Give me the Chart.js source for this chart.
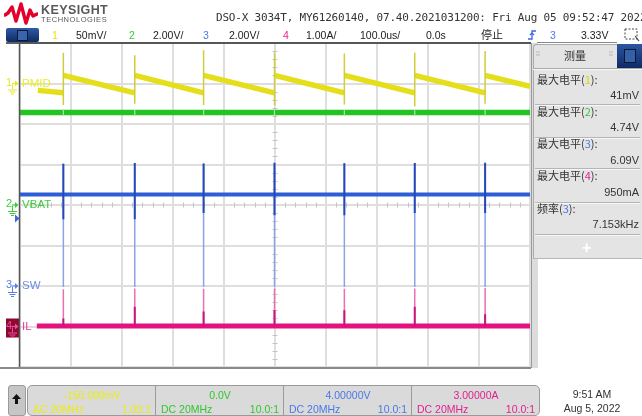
<!DOCTYPE html>
<html>
<head>
<meta charset="utf-8">
<script src="https://cdn.jsdelivr.net/npm/chart.js@4.4.1/dist/chart.umd.min.js"></script>
<style>
html,body{margin:0;padding:0;background:#fff;}
#wrap{position:relative;width:642px;height:416px;overflow:hidden;font-family:"Liberation Sans",Arial,sans-serif;font-size:10.5px;color:#222;}
#c{position:absolute;left:0;top:0;}
.a{position:absolute;white-space:nowrap;line-height:12px;}
.cjk{font-family:"Noto Sans CJK SC","Liberation Sans",sans-serif;}
.sep{position:absolute;left:535px;width:105px;height:1px;background:#b5b5b5;border-bottom:1px solid #f6f6f6;}
.lbl{position:absolute;left:537px;font-size:11px;line-height:13px;color:#333;font-family:"Noto Sans CJK SC","Liberation Sans",sans-serif;white-space:nowrap;}
.val{position:absolute;right:3px;font-size:11px;line-height:13px;color:#333;white-space:nowrap;}
.sec{position:absolute;top:0;height:30px;width:128px;}
.sec .t{position:absolute;top:3px;left:0;width:100%;text-align:center;line-height:12px;}
.sec .l{position:absolute;top:17px;left:5px;line-height:12px;}
.sec .r{position:absolute;top:17px;right:5px;line-height:12px;}
</style>
</head>
<body>
<div id="wrap">
<canvas id="c" width="642" height="416"></canvas>

<!-- header -->
<svg class="a" style="left:4px;top:2px" width="34" height="24" viewBox="0 0 34 24">
<polyline points="1,13 4,11 8,5 12,19 17,2 22,21 26,8 29,14 33,12" fill="none" stroke="#e4002b" stroke-width="3.4" stroke-linejoin="round" stroke-linecap="round"/>
</svg>
<div class="a" style="left:41px;top:4px;font-weight:bold;font-size:12.5px;letter-spacing:0.4px;color:#58595b">KEYSIGHT</div>
<div class="a" style="left:41px;top:16px;font-size:7.5px;letter-spacing:0.55px;color:#58595b;line-height:8px">TECHNOLOGIES</div>
<div class="a" style="left:216px;top:12px;font-family:'DejaVu Sans Mono',monospace;font-size:11px;letter-spacing:-0.2px;color:#333">DSO-X 3034T, MY61260140, 07.40.2021031200: Fri Aug 05 09:52:47 2022</div>

<!-- row 2 -->
<div class="a" style="left:6px;top:28px;width:33px;height:14px;border-radius:2px;background:linear-gradient(#2f5aa3,#0f2a62);"></div>
<div class="a" style="left:17px;top:30px;width:9px;height:9px;border:1px solid #0a1a3a;background:#3a64ad;"></div>
<div class="a" style="left:52px;top:29px;color:#e6e600">1</div>
<div class="a" style="left:76px;top:29px;">50mV/</div>
<div class="a" style="left:129px;top:29px;color:#33cc33">2</div>
<div class="a" style="left:153px;top:29px;">2.00V/</div>
<div class="a" style="left:203px;top:29px;color:#4a7ae8">3</div>
<div class="a" style="left:229px;top:29px;">2.00V/</div>
<div class="a" style="left:283px;top:29px;color:#e8208f">4</div>
<div class="a" style="left:306px;top:29px;">1.00A/</div>
<div class="a" style="left:360px;top:29px;">100.0us/</div>
<div class="a" style="left:426px;top:29px;">0.0s</div>
<div class="a cjk" style="left:481px;top:28px;font-size:11px;line-height:13px;">停止</div>
<svg class="a" style="left:526px;top:29px" width="12" height="12" viewBox="0 0 12 12">
<polyline points="2,10 6,10 6,2 10,2" fill="none" stroke="#3a6ae0" stroke-width="1.3"/>
<polyline points="4,6 6,4 8,6" fill="none" stroke="#3a6ae0" stroke-width="1.2"/>
</svg>
<div class="a" style="left:550px;top:29px;color:#4a7ae8">3</div>
<div class="a" style="left:581px;top:29px;">3.33V</div>
<svg class="a" style="left:624px;top:28px" width="18" height="14" viewBox="0 0 18 14">
<rect x="1" y="1" width="12" height="10" fill="none" stroke="#444" stroke-width="1" stroke-dasharray="2,1.5"/>
<polyline points="11,8 15,13" stroke="#444" stroke-width="1.2"/>
</svg>
<div class="a" style="left:537px;top:42px;width:80px;height:1px;background:#888;"></div>

<!-- right measurement panel -->
<div class="a" style="left:531px;top:43px;width:6px;height:325px;background:#dcdcdc;border-left:1px solid #999;"></div>
<div class="a" style="left:533px;top:44px;width:109px;height:214px;background:#e4e4e4;border-left:1px solid #aaa;border-top:1px solid #aaa;border-top-left-radius:4px;"></div>
<div class="a" style="left:617px;top:44px;width:25px;height:24px;background:linear-gradient(#2c56a0,#0e2a66);"></div>
<div class="a" style="left:624px;top:49px;width:10px;height:12px;border:1px solid #0a1838;background:#3560a8;"></div>
<div class="a" style="left:536px;top:50px;font-size:7px;color:#999;line-height:8px;">⁞⁞</div>
<div class="a" style="left:609px;top:50px;font-size:7px;color:#999;line-height:8px;">⁞⁞</div>
<div class="a cjk" style="left:564px;top:48px;font-size:11px;line-height:14px;color:#333;">测量</div>
<div class="sep" style="top:68px;left:533px;width:109px;background:#aaa;"></div>

<div class="lbl" style="top:73px">最大电平(<span style="color:#d8d800">1</span>):</div>
<div class="val" style="top:89px">41mV</div>
<div class="sep" style="top:104px"></div>
<div class="lbl" style="top:105px">最大电平(<span style="color:#2ec82e">2</span>):</div>
<div class="val" style="top:121px">4.74V</div>
<div class="sep" style="top:137px"></div>
<div class="lbl" style="top:137px">最大电平(<span style="color:#4a7ae8">3</span>):</div>
<div class="val" style="top:154px">6.09V</div>
<div class="sep" style="top:168px"></div>
<div class="lbl" style="top:169px">最大电平(<span style="color:#e8208f">4</span>):</div>
<div class="val" style="top:186px">950mA</div>
<div class="sep" style="top:202px"></div>
<div class="lbl" style="top:202px">频率(<span style="color:#4a7ae8">3</span>):</div>
<div class="val" style="top:218px">7.153kHz</div>
<div class="sep" style="top:234px"></div>
<div class="a" style="left:582px;top:240px;font-size:16px;line-height:16px;color:#fff;font-weight:bold;">+</div>
<div class="a" style="left:533px;top:258px;width:109px;height:1px;background:#b5b5b5;"></div>

<!-- bottom bar -->
<div class="a" style="left:0px;top:367px;width:531px;height:2px;background:#8a8a8a;"></div>
<div class="a" style="left:8px;top:385px;width:16px;height:29px;background:#c6c6c6;border:1px solid #9a9a9a;border-radius:3px;"></div>
<svg class="a" style="left:10px;top:393px" width="13" height="12" viewBox="0 0 13 12">
<polygon points="6.5,1 11,6 8,6 8,11 5,11 5,6 2,6" fill="#111"/>
</svg>
<div class="a" style="left:27px;top:385px;width:511px;height:29px;background:#dadada;border:1px solid #9a9a9a;border-radius:5px;overflow:hidden;">
 <div class="sec" style="left:0px;"><div class="t" style="color:#ecec10">-150.000mV</div><div class="l" style="color:#ecec10">AC 20MHz</div><div class="r" style="color:#ecec10">1.00:1</div></div>
 <div class="a" style="left:127px;top:0;width:1px;height:30px;background:#9a9a9a"></div>
 <div class="sec" style="left:128px;"><div class="t" style="color:#2ec82e">0.0V</div><div class="l" style="color:#2ec82e">DC 20MHz</div><div class="r" style="color:#2ec82e">10.0:1</div></div>
 <div class="a" style="left:255px;top:0;width:1px;height:30px;background:#9a9a9a"></div>
 <div class="sec" style="left:256px;"><div class="t" style="color:#4a78e8">4.00000V</div><div class="l" style="color:#4a78e8">DC 20MHz</div><div class="r" style="color:#4a78e8">10.0:1</div></div>
 <div class="a" style="left:383px;top:0;width:1px;height:30px;background:#9a9a9a"></div>
 <div class="sec" style="left:384px;"><div class="t" style="color:#e0208f">3.00000A</div><div class="l" style="color:#e0208f">DC 20MHz</div><div class="r" style="color:#e0208f">10.0:1</div></div>
</div>
<div class="a" style="left:552px;top:388px;width:80px;text-align:center;color:#333">9:51 AM</div>
<div class="a" style="left:552px;top:402px;width:80px;text-align:center;color:#333">Aug 5, 2022</div>
</div>

<script>
// ---------- data (time in µs) ----------
const switchTimesUs = [85, 225, 360, 499, 636, 774, 912];

// Channel 1: PMID (mV), AC coupled sawtooth; null = break at each jump
const pmidTimeUs = [35, 85, 85, 85, 225, 225, 225, 360, 360, 360, 499, 499, 499, 636, 636, 636, 774, 774, 774, 912, 912, 912, 1000];
const pmidMv     = [-8.5, -11.5, null, 10, -11.5, null, 10, -11.5, null, 10, -11.5, null, 10, -11.5, null, 10, -11.5, null, 10, -11.5, null, 10, -3.5];
const pmidSpikeLowMv  = [-26.5, -25, -26.5, -27, -26, -28.5, -25];
const pmidSpikeHighMv = [38, 35, 41, 38, 37, 38, 40];

// Channel 2: VBAT (V)
const vbatTimeUs = [0, 1000];
const vbatV      = [4.57, 4.57];
const vbatSpikeLowV  = [4.4, 4.4, 4.4, 4.4, 4.4, 4.4, 4.4];
const vbatSpikeHighV = [4.72, 4.7, 4.74, 4.72, 4.7, 4.72, 4.7];

// Channel 3: SW (V)
const swTimeUs = [0, 1000];
const swV      = [4.52, 4.52];
const swSpikeHighV = [6.04, 6.07, 6.05, 6.09, 6.06, 6.08, 6.09];
const swSpikeMidV  = [3.3, 3.3, 3.6, 3.5, 3.5, 3.6, 3.6];
const swSpikeLowV  = [-0.05, -0.05, -0.05, -0.05, -0.05, -0.05, -0.05];

// Channel 4: IL (A)
const ilTimeUs = [33, 1000];
const ilA      = [0.01, 0.01];
const ilSpikeHighA = [0.92, 0.94, 0.93, 0.94, 0.93, 0.94, 0.95];
const ilSpikeMidA  = [0.2, 0.49, 0.37, 0.4, 0.4, 0.49, 0.3];

// channel labels
const chLabels = ['PMID', 'VBAT', 'SW', 'IL'];
const trigLevelV = 3.33;

// ---------- helpers ----------
const pts = (t, v) => t.map((x, i) => ({x: x, y: v[i]}));
const spikes = (t, lo, hi) => {
  const d = [];
  t.forEach((x, i) => { d.push({x: x, y: lo[i]}, {x: x, y: hi[i]}, {x: x, y: null}); });
  return d;
};
const zeros = switchTimesUs.map(() => 0);

const C1 = '#e4df1a', C2 = '#22c322', C3 = '#2c5fd6', C4 = '#e3127f';

const base = {pointRadius: 0, borderCapStyle: 'butt', tension: 0, spanGaps: false, fill: false};

const datasets = [
  Object.assign({label: 'IL spike low', data: spikes(switchTimesUs, zeros, ilSpikeMidA), borderColor: '#c8157a', borderWidth: 2, yAxisID: 'y4'}, base),
  Object.assign({label: 'IL', data: pts(ilTimeUs, ilA), borderColor: C4, borderWidth: 5, yAxisID: 'y4'}, base),
  Object.assign({label: 'IL spike', data: spikes(switchTimesUs, zeros, ilSpikeHighA), borderColor: '#ea6fb2', borderWidth: 1.5, yAxisID: 'y4'}, base),
  Object.assign({label: 'SW spike hi', data: spikes(switchTimesUs, swSpikeMidV, swSpikeHighV), borderColor: '#2448b8', borderWidth: 2, yAxisID: 'y3'}, base),
  Object.assign({label: 'SW', data: pts(swTimeUs, swV), borderColor: C3, borderWidth: 4, yAxisID: 'y3'}, base),
  Object.assign({label: 'SW spike', data: spikes(switchTimesUs, swSpikeLowV, swSpikeHighV), borderColor: '#8aa3e4', borderWidth: 1.5, yAxisID: 'y3'}, base),
  Object.assign({label: 'VBAT spike', data: spikes(switchTimesUs, vbatSpikeLowV, vbatSpikeHighV), borderColor: '#a8e8a8', borderWidth: 1.2, yAxisID: 'y2'}, base),
  Object.assign({label: 'VBAT', data: pts(vbatTimeUs, vbatV), borderColor: C2, borderWidth: 5.5, yAxisID: 'y2'}, base),
  Object.assign({label: 'PMID spike', data: spikes(switchTimesUs, pmidSpikeLowMv, pmidSpikeHighMv), borderColor: '#d2cc3a', borderWidth: 1.5, yAxisID: 'y1'}, base),
  Object.assign({label: 'PMID', data: pts(pmidTimeUs, pmidMv), borderColor: C1, borderWidth: 5.5, yAxisID: 'y1'}, base)
];

function groundSym(ctx, x, y, col) {
  ctx.strokeStyle = col; ctx.lineWidth = 1;
  ctx.beginPath();
  ctx.moveTo(x + 0.5, y); ctx.lineTo(x + 0.5, y + 5);
  ctx.moveTo(x - 4, y + 5.5); ctx.lineTo(x + 5, y + 5.5);
  ctx.moveTo(x - 2.5, y + 7.5); ctx.lineTo(x + 3.5, y + 7.5);
  ctx.moveTo(x - 1, y + 9.5); ctx.lineTo(x + 2, y + 9.5);
  ctx.stroke();
}
function chMarker(ctx, num, y, col, boxed) {
  ctx.save();
  if (boxed) {
    ctx.fillStyle = '#8c0a2e';
    ctx.fillRect(6, y - 8, 13, 19);
  }
  ctx.fillStyle = col;
  ctx.font = '11px "Liberation Sans", Arial, sans-serif';
  ctx.textBaseline = 'middle'; ctx.textAlign = 'left';
  ctx.fillText(num, 6, y - 1);
  // arrow
  ctx.strokeStyle = col; ctx.lineWidth = 1.2;
  ctx.beginPath(); ctx.moveTo(12, y); ctx.lineTo(17, y); ctx.stroke();
  ctx.beginPath(); ctx.moveTo(15, y - 3); ctx.lineTo(18.5, y); ctx.lineTo(15, y + 3); ctx.closePath(); ctx.fill();
  groundSym(ctx, 12, y + 1, col);
  ctx.restore();
}

const overlay = {
  id: 'overlay',
  beforeDatasetsDraw(chart) {
    const ctx = chart.ctx, xs = chart.scales.x, yd = chart.scales.yDiv;
    const yc = yd.getPixelForValue(0), xc = xs.getPixelForValue(500);
    ctx.save();
    ctx.strokeStyle = '#c4c4c4'; ctx.lineWidth = 1;
    ctx.beginPath();
    for (let t = 0; t <= 1000; t += 20) {
      if (t % 100 === 0) continue;
      const px = Math.round(xs.getPixelForValue(t)) + 0.5;
      ctx.moveTo(px, yc - 2.5); ctx.lineTo(px, yc + 2.5);
    }
    for (let d = -40; d <= 40; d += 2) {
      if (d % 10 === 0) continue;
      const py = Math.round(yd.getPixelForValue(d / 10)) + 0.5;
      ctx.moveTo(xc - 2.5, py); ctx.lineTo(xc + 2.5, py);
    }
    ctx.stroke();
    ctx.restore();
  },
  afterDatasetsDraw(chart) {
    const ctx = chart.ctx, s = chart.scales;
    const ys = [s.y1.getPixelForValue(0), s.y2.getPixelForValue(0), s.y3.getPixelForValue(0), s.y4.getPixelForValue(0)];
    const txtCol = ['#ecec2a', '#3ccc3c', '#6a8ee8', '#e63c9c'];
    const mkCol = ['#e6e62a', '#3ccc3c', '#5a80e6', '#f04ca8'];
    ctx.save();
    ctx.font = '11.5px "Liberation Sans", Arial, sans-serif';
    ctx.textBaseline = 'middle'; ctx.textAlign = 'left';
    chLabels.forEach((lab, i) => {
      ctx.fillStyle = txtCol[i];
      ctx.fillText(lab, 22, ys[i]);
    });
    ctx.restore();
    chMarker(ctx, '1', ys[0], mkCol[0], false);
    chMarker(ctx, '2', ys[1], mkCol[1], false);
    chMarker(ctx, '3', ys[2], mkCol[2], false);
    chMarker(ctx, '4', ys[3], mkCol[3], true);
    // trigger level marker (channel 3)
    const ty = s.y3.getPixelForValue(trigLevelV);
    ctx.save();
    ctx.fillStyle = '#3a6ae0';
    ctx.beginPath(); ctx.moveTo(15, ty - 4); ctx.lineTo(19.5, ty); ctx.lineTo(15, ty + 4); ctx.closePath(); ctx.fill();
    ctx.restore();
  },
  afterDraw(chart) {
    const ctx = chart.ctx, a = chart.chartArea;
    ctx.save();
    ctx.strokeStyle = '#2a2a2a'; ctx.lineWidth = 1.5;
    ctx.beginPath(); ctx.moveTo(6, a.top); ctx.lineTo(a.right + 1, a.top); ctx.stroke();
    ctx.strokeStyle = '#555'; ctx.lineWidth = 1.5;
    ctx.beginPath(); ctx.moveTo(a.left - 0.5, a.top); ctx.lineTo(a.left - 0.5, a.bottom); ctx.stroke();
    ctx.restore();
  }
};

const gridCfg = {color: '#dedede', lineWidth: 2, drawTicks: false};

new Chart(document.getElementById('c'), {
  type: 'line',
  data: {datasets: datasets},
  options: {
    responsive: false,
    animation: false,
    devicePixelRatio: 1,
    layout: {padding: {left: 20, right: 112, top: 43, bottom: 49}},
    plugins: {legend: {display: false}, tooltip: {enabled: false}},
    elements: {line: {borderJoinStyle: 'miter'}},
    scales: {
      x: {type: 'linear', min: 0, max: 1000, ticks: {display: false, stepSize: 100}, grid: gridCfg, border: {display: false}, afterFit(sc) { sc.height = 0; }},
      yDiv: {type: 'linear', position: 'left', min: -4, max: 4, ticks: {display: false, stepSize: 1}, grid: gridCfg, border: {display: false}, afterFit(sc) { sc.width = 0; }},
      y1: {type: 'linear', display: false, min: -350, max: 50},
      y2: {type: 'linear', display: false, min: -8, max: 8},
      y3: {type: 'linear', display: false, min: -4, max: 12},
      y4: {type: 'linear', display: false, min: -1, max: 7}
    }
  },
  plugins: [overlay]
});
</script>
</body>
</html>
